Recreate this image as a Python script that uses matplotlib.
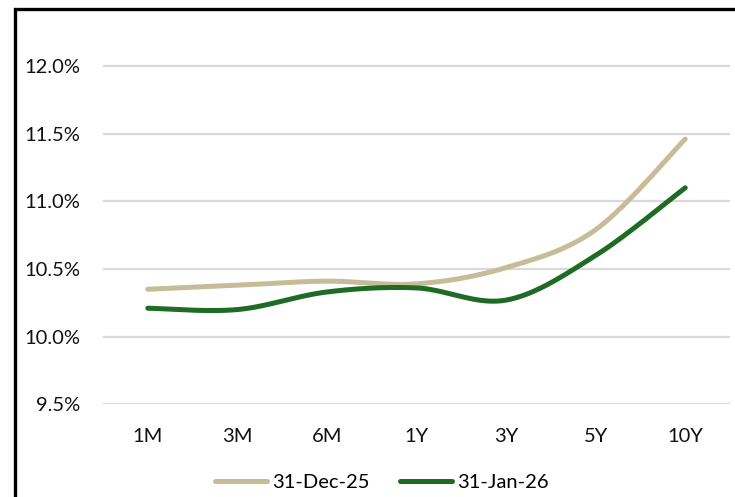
import numpy as np
import matplotlib
matplotlib.use('Agg')
import matplotlib.pyplot as plt
from matplotlib.patches import Rectangle

plt.rcParams['font.family'] = ['Lato', 'DejaVu Sans']

tenors = ['1M', '3M', '6M', '1Y', '3Y', '5Y', '10Y']
dec_25 = [10.35, 10.38, 10.41, 10.39, 10.51, 10.79, 11.46]
jan_26 = [10.21, 10.20, 10.33, 10.36, 10.27, 10.60, 11.10]
labels = ['31-Dec-25', '31-Jan-26']
colors = ['#C6BD98', '#1D6B25']
yticks = [9.5, 10.0, 10.5, 11.0, 11.5, 12.0]


def smooth(xs, ys, n=40):
    # excel style smoothed line: bezier through each point
    xs = np.asarray(xs, float)
    ys = np.asarray(ys, float)
    px = np.concatenate([[xs[0]], xs, [xs[-1]]])
    py = np.concatenate([[ys[0]], ys, [ys[-1]]])
    ox, oy = [], []
    t = np.linspace(0, 1, n)
    for i in range(1, len(px) - 2):
        p0 = np.array([px[i], py[i]])
        p3 = np.array([px[i + 1], py[i + 1]])
        c1 = p0 + (np.array([px[i + 1], py[i + 1]]) - np.array([px[i - 1], py[i - 1]])) / 6
        c2 = p3 - (np.array([px[i + 2], py[i + 2]]) - np.array([px[i], py[i]])) / 6
        b = ((1 - t) ** 3)[:, None] * p0 + (3 * (1 - t) ** 2 * t)[:, None] * c1 \
            + (3 * (1 - t) * t ** 2)[:, None] * c2 + (t ** 3)[:, None] * p3
        ox.extend(b[:, 0])
        oy.extend(b[:, 1])
    return ox, oy


W, H = 735, 497
fig = plt.figure(figsize=(W / 100, H / 100), dpi=100)
ax = fig.add_axes([103 / W, (H - 404.3) / H, (730 - 103) / W, (404.3 - 10) / H])

x = np.arange(len(tenors))
for vals, lab, col in zip([dec_25, jan_26], labels, colors):
    sx, sy = smooth(x, vals)
    ax.plot(sx, sy, color=col, lw=3.6, solid_capstyle='round', label=lab, zorder=3)

ax.set_xlim(-0.5, len(tenors) - 0.5)
ax.set_ylim(9.5, 12.0 + (66 - 10) / 135.4)
ax.set_yticks(yticks)
ax.set_yticklabels([f'{v:.1f}%' for v in yticks])
ax.set_xticks(x)
ax.set_xticklabels(tenors)
ax.tick_params(axis='both', length=0, labelsize=14.5, colors='#111111')
ax.tick_params(axis='y', pad=16.5)
ax.tick_params(axis='x', pad=17)
ax.yaxis.grid(True, color='#D9D9D9', lw=1.6)
ax.set_axisbelow(True)
for s in ax.spines.values():
    s.set_visible(False)

fig.legend(loc='center', bbox_to_anchor=(382 / W, (H - 482) / H), ncol=2, frameon=False,
           fontsize=14.5, handlelength=2.6, handletextpad=0.25, columnspacing=1.5)

fig.patches.append(Rectangle((15.5 / W, -0.1), 1.2, 1.1 - 8.5 / H + 0.0, transform=fig.transFigure,
                             fill=False, edgecolor='black', lw=2.4, zorder=10))

fig.savefig('out.png', dpi=100)
